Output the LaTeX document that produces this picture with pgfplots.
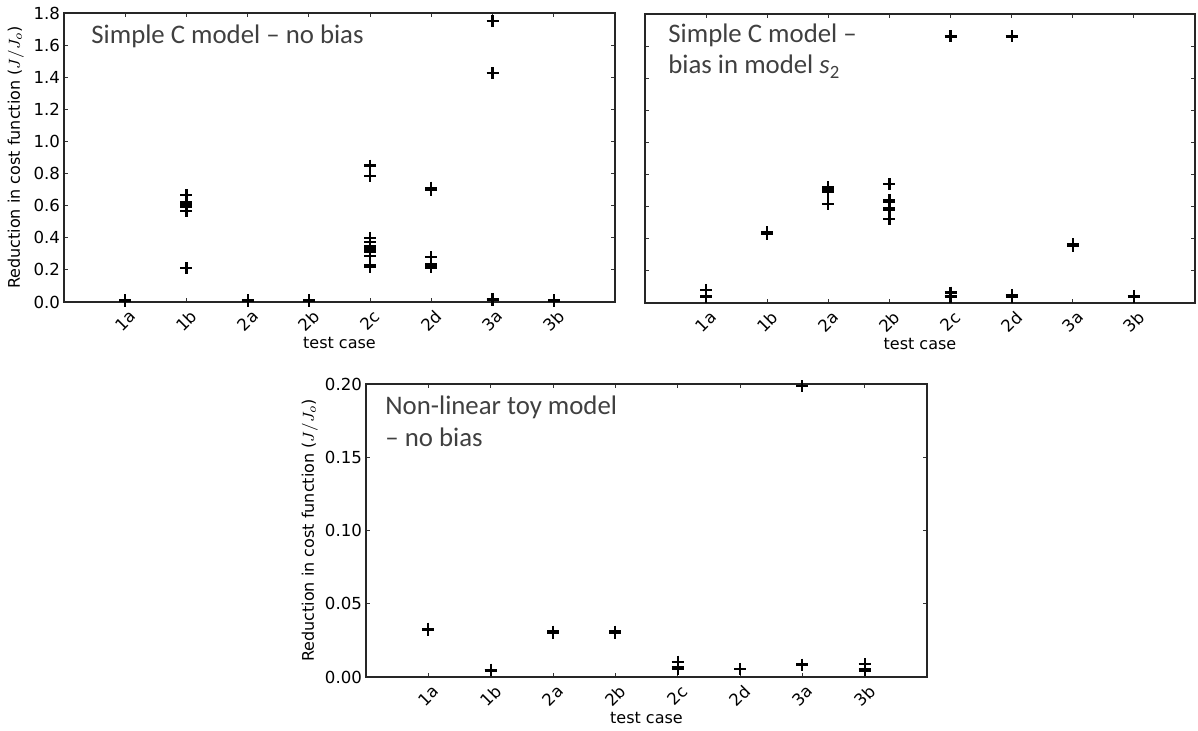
\documentclass[border=0pt]{standalone}
\usepackage{graphicx}
\usepackage{pgfplots}
\usepackage{pgfplotstable}
\pgfplotsset{compat=1.18}
\usepackage{fontspec}
\setmainfont{DejaVu Sans}
\newfontfamily\calib{Carlito}
\definecolor{annot}{HTML}{404040}

% one table per panel: x = test case index (1a..3b -> 1..8)
\pgfplotstableread{
x y
1 0.012
1 0.006
2 0.665
2 0.62
2 0.605
2 0.595
2 0.568
2 0.21
3 0.012
3 0.006
4 0.012
4 0.006
5 0.85
5 0.785
5 0.40
5 0.375
5 0.345
5 0.33
5 0.315
5 0.285
5 0.23
5 0.218
6 0.712
6 0.700
6 0.278
6 0.235
6 0.225
6 0.215
7 1.75
7 1.425
7 0.02
7 0.014
8 0.012
8 0.006
}\nobias
\pgfplotstableread{
x y
1 0.082
1 0.042
1 0.035
2 0.44
2 0.43
3 0.72
3 0.71
3 0.70
3 0.69
3 0.617
4 0.741
4 0.64
4 0.63
4 0.59
4 0.58
4 0.525
5 1.66
5 0.065
5 0.04
5 0.035
6 1.66
6 0.05
6 0.04
7 0.365
7 0.355
8 0.045
8 0.04
}\biasstwo
\pgfplotstableread{
x y
1 0.033
1 0.032
2 0.005
2 0.0045
3 0.031
3 0.030
4 0.031
4 0.030
5 0.0105
5 0.0065
5 0.0055
6 0.0055
7 0.1985
7 0.0085
8 0.0088
8 0.0052
8 0.0045
}\toymodel

\pgfplotsset{
  panel/.style={
    scale only axis,
    anchor=south west,
    xmin=0, xmax=9,
    xtick={1,...,8},
    xticklabels={\rotatebox{45}{1a},\rotatebox{45}{1b},\rotatebox{45}{2a},\rotatebox{45}{2b},
      \rotatebox{45}{2c},\rotatebox{45}{2d},\rotatebox{45}{3a},\rotatebox{45}{3b}},
    xticklabel style={anchor=north},
    yticklabel style={xshift=1.5pt},
    tick align=inside,
    major tick length=2.2pt,
    tick style={black!80, line width=0.5pt},
    axis line style={black!85, line width=0.7pt},
    every tick label/.append style={font=\fontsize{8.3}{10}\selectfont},
    label style={font=\fontsize{8}{10}\selectfont},
    /pgf/number format/assume math mode=true,
    scaled y ticks=false,
    xlabel={test case},
    xlabel style={at={(rel axis cs:0.5,0)}, anchor=base, yshift=-23.5pt},
  },
  pts/.style={only marks, mark=+, mark size=3pt, black, mark options={line width=1.1pt}},
}
\tikzset{note/.style={anchor=base west, inner sep=0pt, text=annot,
  font=\calib\fontsize{13.4}{15.5}\selectfont}}

\begin{document}
\begin{tikzpicture}
\useasboundingbox (0,0) rectangle (599pt,365.5pt);

\begin{axis}[panel, at={(32pt,214.5pt)}, width=275.5pt, height=144.5pt,
  ymin=0, ymax=1.8, ytick={0,0.2,...,1.8},
  yticklabel style={/pgf/number format/.cd, fixed, fixed zerofill, precision=1},
  ylabel={Reduction in cost function ($J/J_o$)},
  ylabel style={at={(axis description cs:-0.0599,0.5)}, anchor=south}]
\addplot[pts] table[x=x, y=y] {\nobias};
\end{axis}
\node[note] at (45.5pt,343.5pt) {Simple C model – no bias};

\begin{axis}[panel, at={(322.5pt,214pt)}, width=275pt, height=144.5pt,
  ymin=0, ymax=1.8, ytick={0,0.2,...,1.8}, yticklabels={}]
\addplot[pts] table[x=x, y=y] {\biasstwo};
\end{axis}
\node[note] at (334pt,344pt) {Simple C model –};
\node[note] at (334pt,328.5pt) {bias in model \textit{s}\textsubscript{2}};

\begin{axis}[panel, at={(183pt,27pt)}, width=280.5pt, height=146.5pt,
  ymin=0, ymax=0.2, ytick={0,0.05,...,0.2},
  yticklabel style={/pgf/number format/.cd, fixed, fixed zerofill, precision=2},
  ylabel={Reduction in cost function ($J/J_o$)},
  ylabel style={at={(axis description cs:-0.0731,0.5)}, anchor=south}]
\addplot[pts] table[x=x, y=y] {\toymodel};
\end{axis}
\node[note] at (192.5pt,158pt) {Non-linear toy model};
\node[note] at (192.5pt,142pt) {– no bias};
\end{tikzpicture}
\end{document}
